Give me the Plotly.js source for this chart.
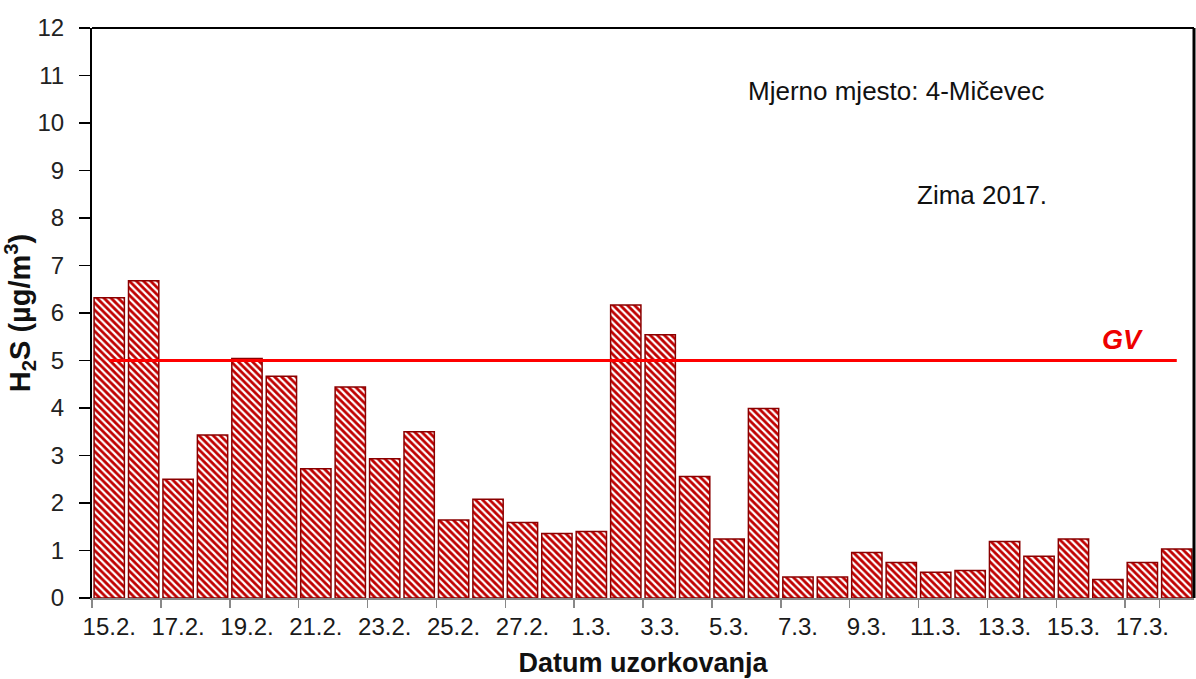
<!DOCTYPE html>
<html>
<head>
<meta charset="utf-8">
<script src="https://cdn.plot.ly/plotly-3.0.1.min.js"></script>
<style>
  html, body { margin: 0; padding: 0; background: #fff; }
  #chart { width: 1196px; height: 679px; }
</style>
</head>
<body>
<div id="chart"></div>
<script>
// dates of sampling (winter 2017)
const dates = [
    '15.2.', '16.2.', '17.2.', '18.2.', '19.2.', '20.2.', '21.2.', '22.2.',
    '23.2.', '24.2.', '25.2.', '26.2.', '27.2.', '28.2.', '1.3.', '2.3.',
    '3.3.', '4.3.', '5.3.', '6.3.', '7.3.', '8.3.', '9.3.', '10.3.',
    '11.3.', '12.3.', '13.3.', '14.3.', '15.3.', '16.3.', '17.3.', '18.3.'
];
// H2S, µg/m3
const h2s = [
    6.32, 6.68, 2.50, 3.43, 5.04, 4.67, 2.72, 4.44,
    2.93, 3.50, 1.64, 2.08, 1.59, 1.36, 1.40, 6.17,
    5.54, 2.56, 1.24, 3.99, 0.44, 0.44, 0.96, 0.75,
    0.54, 0.58, 1.19, 0.88, 1.24, 0.39, 0.75, 1.03
];
// granicna vrijednost
const gvValue = 5;
const yTicks = [0, 1, 2, 3, 4, 5, 6, 7, 8, 9, 10, 11, 12];
const xLabels = dates.filter((d, i) => i % 2 === 0);

const fontFam = 'Liberation Sans, Arial, sans-serif';

var bars = {
    type: 'bar',
    x: dates,
    y: h2s,
    hoverinfo: 'none',
    marker: {
        color: '#c00000',
        line: { color: '#8b0000', width: 1.5 },
        pattern: { shape: '\\', fgcolor: '#ffffff', bgcolor: '#c00000', size: 5, solidity: 0.45 }
    },
    showlegend: false
};

var gvLine = {
    type: 'scatter',
    mode: 'lines',
    x: [dates[0], dates[dates.length - 1]],
    y: [gvValue, gvValue],
    line: { color: '#ff0000', width: 3 },
    hoverinfo: 'none',
    showlegend: false
};

var layout = {
    width: 1196,
    height: 679,
    margin: { l: 92, r: 2, t: 28, b: 81 },
    paper_bgcolor: '#ffffff',
    plot_bgcolor: '#ffffff',
    bargap: 0.12,
    font: { family: fontFam, color: '#222222', size: 22 },
    xaxis: {
        type: 'category',
        tickmode: 'array',
        tickvals: xLabels,
        ticktext: xLabels,
        tickangle: 0,
        tickson: 'boundaries',
        ticks: 'outside',
        ticklen: 8,
        tickcolor: '#888888',
        tickwidth: 1.5,
        ticklabelstandoff: 7,
        showline: true,
        linecolor: '#888888',
        linewidth: 1.5,
        showgrid: false,
        tickfont: { size: 24, color: '#1a1a1a' },
        title: {
            text: 'Datum uzorkovanja',
            font: { size: 27, color: '#111111', weight: 'bold' },
            standoff: 14
        }
    },
    yaxis: {
        range: [0, 12],
        tickvals: yTicks,
        ticks: 'outside',
        ticklen: 11,
        tickcolor: '#000000',
        tickwidth: 1.5,
        ticklabelstandoff: 10,
        showline: true,
        linecolor: '#000000',
        linewidth: 2,
        showgrid: false,
        zeroline: false,
        tickfont: { size: 24, color: '#222222' },
        title: {
            text: 'H<sub>2</sub>S (µg/m<sup>3</sup>)',
            font: { size: 29, color: '#111111', weight: 'bold' },
            standoff: 2
        }
    },
    shapes: [
        { type: 'line', xref: 'paper', yref: 'paper', x0: 0, x1: 1, y0: 1, y1: 1,
          line: { color: '#000000', width: 2 } },
        { type: 'line', xref: 'paper', yref: 'paper', x0: 1, x1: 1, y0: 0, y1: 1,
          line: { color: '#000000', width: 3 } }
    ],
    annotations: [
        { xref: 'paper', yref: 'paper', x: 0.73, y: 0.889, xanchor: 'center', yanchor: 'middle',
          showarrow: false, text: 'Mjerno mjesto: 4-Mičevec', font: { size: 26, color: '#111111' } },
        { xref: 'paper', yref: 'paper', x: 0.808, y: 0.707, xanchor: 'center', yanchor: 'middle',
          showarrow: false, text: 'Zima 2017.', font: { size: 26, color: '#111111' } },
        { xref: 'paper', yref: 'paper', x: 0.935, y: 0.453, xanchor: 'center', yanchor: 'middle',
          showarrow: false, text: '<b><i>GV</i></b>', font: { size: 27, color: '#ee0000' } }
    ]
};

Plotly.newPlot('chart', [bars, gvLine], layout, { displayModeBar: false, staticPlot: true });
</script>
</body>
</html>
